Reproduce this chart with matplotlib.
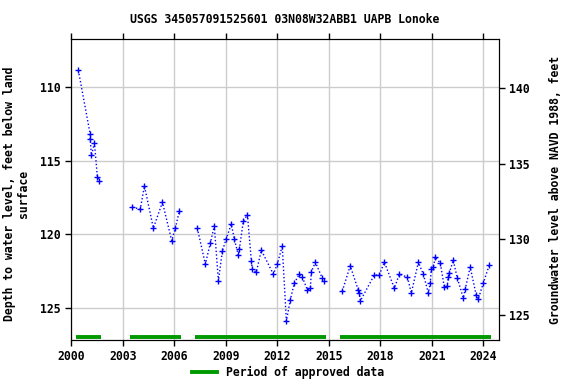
import numpy as np
import matplotlib
matplotlib.use('Agg')
import matplotlib.pyplot as plt
from matplotlib.lines import Line2D

# water level measurements (decimal year, depth below land surface in ft)
# NaN marks a gap in the record
years = [2000.41, 2001.10, 2001.10, 2001.17, 2001.35, 2001.52, 2001.64, np.nan,
         2003.56, 2004.02, 2004.26, 2004.78, 2005.31, 2005.85, 2006.06, 2006.30, np.nan,
         2007.34, 2007.81, 2008.10, 2008.33, 2008.57, 2008.80, 2009.03, 2009.32,
         2009.50, 2009.73, 2009.79, 2010.02, 2010.26, 2010.49, 2010.55, 2010.78,
         2011.07, 2011.77, 2012.00, 2012.29, 2012.53, 2012.76, 2012.99, 2013.28,
         2013.46, 2013.75, 2013.93, 2013.98, 2014.22, 2014.62, 2014.74, np.nan,
         2015.79, 2016.25, 2016.72, 2016.78, 2016.84, 2017.65, 2017.94, 2018.24,
         2018.82, 2019.11, 2019.58, 2019.81, 2020.22, 2020.51, 2020.80, 2020.91,
         2020.97, 2021.09, 2021.21, 2021.50, 2021.73, 2021.90, 2021.96, 2022.02,
         2022.25, 2022.49, 2022.84, 2022.95, 2023.24, 2023.59, 2023.71, 2024.00,
         2024.35]
depth = [108.85, 113.19, 113.51, 114.62, 113.80, 116.11, 116.36, np.nan,
         118.15, 118.28, 116.70, 119.57, 117.81, 120.43, 119.57, 118.38, np.nan,
         119.57, 122.02, 120.59, 119.42, 123.15, 121.13, 120.28, 119.30,
         120.32, 121.41, 121.00, 119.10, 118.65, 121.81, 122.38, 122.56,
         121.07, 122.70, 122.02, 120.79, 125.89, 124.44, 123.31, 122.70,
         122.90, 123.76, 123.65, 122.56, 121.88, 122.97, 123.17, np.nan,
         123.85, 122.13, 123.78, 123.98, 124.51, 122.76, 122.76, 121.88,
         123.65, 122.70, 122.90, 123.98, 121.88, 122.70, 123.98, 123.31,
         122.36, 122.22, 121.54, 121.95, 123.58, 123.51, 122.90, 122.63,
         121.75, 122.97, 124.32, 123.71, 122.22, 124.12, 124.39, 123.31,
         122.08]

# approved data periods
approved_start = [2000.28, 2003.43, 2007.22, 2015.65]
approved_end = [2001.74, 2006.40, 2014.82, 2024.45]

xticks = [2000, 2003, 2006, 2009, 2012, 2015, 2018, 2021, 2024]
depth_ticks = [110, 115, 120, 125]
elev_ticks = [125, 130, 135, 140]

font = {'family': 'DejaVu Sans Mono', 'weight': 'bold', 'size': 8.3}
fp = matplotlib.font_manager.FontProperties(**font)

fig = plt.figure(figsize=(5.76, 3.84), dpi=100)
ax = fig.add_axes([0.1238, 0.1146, 0.7417, 0.7831])

ax.plot(years, depth, color='#0000ff', linestyle=(0, (1, 1.6)), linewidth=1,
        marker='+', markersize=4, markeredgewidth=1, zorder=3)

ax.hlines([0.01] * len(approved_start), approved_start, approved_end,
          transform=ax.get_xaxis_transform(), color='#009900', linewidth=2.8, zorder=2)

ax.set_xlim(2000.0, 2024.89)
ax.set_ylim(127.17, 106.74)
ax.set_xticks(xticks)
ax.set_yticks(depth_ticks)
ax.grid(True, color='#cccccc', linewidth=1)
ax.set_axisbelow(True)
ax.tick_params(axis='x', top=True, direction='out', length=4, width=1)
ax.tick_params(axis='y', direction='out', length=4, width=1)
for lab in ax.get_xticklabels() + ax.get_yticklabels():
    lab.set_fontproperties(fp)

ax.set_ylabel('Depth to water level, feet below land\nsurface', fontproperties=fp,
              linespacing=1.05)
ax.yaxis.set_label_coords(-0.097, 0.485)
ax.set_title('USGS 345057091525601 03N08W32ABB1 UAPB Lonoke', fontproperties=fp, pad=12)

ax2 = ax.twinx()
ax2.set_ylim(123.33, 143.25)
ax2.set_yticks(elev_ticks)
ax2.tick_params(axis='y', direction='out', length=4, width=1)
for lab in ax2.get_yticklabels():
    lab.set_fontproperties(fp)
ax2.set_ylabel('Groundwater level above NAVD 1988, feet', fontproperties=fp, labelpad=14)

handle = Line2D([], [], color='#009900', linewidth=2.8)
fig.legend([handle], ['Period of approved data'], loc='center',
           bbox_to_anchor=(0.5, 0.03), frameon=False, prop=fp,
           handlelength=2.2, handletextpad=0.8)

fig.savefig('out.png', dpi=100)
